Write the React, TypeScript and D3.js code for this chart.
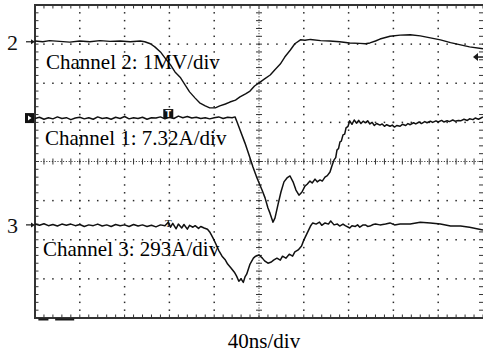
import React, { useRef, useEffect } from "react";
import * as d3 from "d3";

// time in ns (40 ns/div, 10 div), value in screen divisions (centre = 0)
const ch2Data: [number, number][] = [
  [0, 3.08], [7, 3.06], [13, 3.09], [22, 3.07], [31, 3.05], [40, 3.08], [49, 3.06], [58, 3.09],
  [67, 3.07], [76, 3.08], [85, 3.06], [94, 3.08], [98, 3.06], [103, 3.01], [107, 2.93], [112, 2.8],
  [116, 2.65], [121, 2.47], [125, 2.29], [130, 2.14], [134, 1.96], [138, 1.78], [143, 1.62], [147, 1.5],
  [152, 1.42], [156, 1.37], [161, 1.37], [165, 1.42], [170, 1.47], [174, 1.52], [179, 1.57], [183, 1.65],
  [188, 1.73], [192, 1.8], [196, 1.93], [201, 2.03], [205, 2.11], [210, 2.21], [214, 2.34], [219, 2.49],
  [223, 2.67], [228, 2.85], [232, 3.01], [237, 3.11], [241, 3.1], [246, 3.12], [255, 3.09], [263, 3.08],
  [272, 3.06], [281, 3.03], [290, 3.02], [295, 3.01], [299, 3.03], [304, 3.08], [308, 3.13], [317, 3.2],
  [326, 3.23], [335, 3.24], [344, 3.21], [353, 3.16], [362, 3.11], [371, 3.04], [380, 2.98], [388, 2.93],
  [400, 2.88],
];

const ch1Data: [number, number][] = [
  [0, 1.1], [4, 1.13], [8, 1.08], [12, 1.12], [16, 1.09], [20, 1.14], [24, 1.1], [28, 1.12],
  [32, 1.07], [36, 1.11], [40, 1.13], [44, 1.09], [48, 1.12], [52, 1.08], [56, 1.14], [60, 1.1],
  [64, 1.12], [68, 1.08], [72, 1.13], [76, 1.1], [80, 1.15], [84, 1.09], [88, 1.12], [92, 1.1],
  [96, 1.13], [100, 1.08], [104, 1.12], [108, 1.11], [112, 1.14], [116, 1.09], [120, 1.13], [124, 1.1],
  [128, 1.16], [132, 1.12], [136, 1.15], [140, 1.11], [144, 1.13], [148, 1.1], [152, 1.12], [156, 1.09],
  [160, 1.12], [164, 1.14], [168, 1.1], [172, 1.13], [176, 1.12], [178.6, 1.14], [180.4, 1.01], [183, 0.81],
  [187.5, 0.47], [192, 0.09], [194.6, -0.14], [198.2, -0.42], [202.7, -0.73], [205.4, -0.93], [208, -1.19],
  [209.8, -1.32], [212.5, -1.55], [214.3, -1.44], [216.9, -1.11], [219.6, -0.78], [222.3, -0.52],
  [225, -0.42], [227.7, -0.37], [230.4, -0.52], [233, -0.73], [235.7, -0.86], [238.4, -0.78], [241, -0.63],
  [243, -0.58], [245.5, -0.5], [247.5, -0.55], [250, -0.45], [252, -0.52], [254.5, -0.47], [256.5, -0.5],
  [258.9, -0.4], [261, -0.36], [263.4, -0.27], [265, -0.12], [267, 0.04], [268.5, 0.1], [269.6, 0.29],
  [271, 0.33], [272.3, 0.5], [273.5, 0.52], [275, 0.68], [276.5, 0.7], [277.7, 0.86], [279.5, 0.9],
  [281, 1.04], [283, 0.95], [285, 1.06], [287, 0.98], [289, 1.05], [291, 0.97], [293, 1.03], [295, 0.99],
  [297, 1.04], [299, 0.96], [301, 1.0], [303, 0.92], [305, 0.97], [308, 0.93], [310, 0.96], [312, 0.9],
  [314, 0.94], [317, 0.9], [319, 0.93], [321, 0.88], [323, 0.92], [326, 0.9], [328, 0.95], [331, 0.92],
  [333, 0.97], [335, 0.94], [338, 0.99], [340, 0.96], [343, 1.01], [345, 0.97], [348, 1.02], [350, 0.99],
  [353, 1.03], [355, 1.0], [358, 1.04], [360, 1.01], [363, 1.05], [365, 1.01], [368, 1.04], [370, 1.02],
  [373, 1.06], [375, 1.03], [378, 1.05], [380, 1.04], [383, 1.08], [386, 1.05], [388, 1.09], [391, 1.07],
  [393, 1.11], [396, 1.08], [400, 1.14],
];

const ch3Data: [number, number][] = [
  [0, -1.6], [4, -1.63], [8, -1.59], [12, -1.64], [16, -1.61], [20, -1.65], [24, -1.6], [28, -1.63],
  [32, -1.6], [36, -1.64], [40, -1.61], [44, -1.66], [48, -1.62], [52, -1.64], [56, -1.6], [60, -1.65],
  [64, -1.62], [68, -1.66], [72, -1.61], [76, -1.64], [80, -1.62], [84, -1.66], [88, -1.61], [92, -1.65],
  [96, -1.62], [100, -1.66], [104, -1.63], [108, -1.67], [112, -1.62], [116, -1.64], [119, -1.55],
  [121, -1.68], [123, -1.58], [126, -1.72], [128, -1.6], [131, -1.7], [133, -1.61], [136, -1.73],
  [138, -1.63], [141, -1.68], [143, -1.64], [146, -1.71], [148, -1.66], [151, -1.7], [154, -1.73],
  [156, -1.8], [159, -1.96], [162, -2.14], [164, -2.27], [167, -2.42], [170, -2.52], [172, -2.62],
  [175, -2.72], [178, -2.83], [180, -2.93], [182, -3.06], [184, -3.0], [186, -3.09], [187.5, -2.95],
  [189, -2.88], [192, -2.62], [195, -2.47], [197, -2.42], [200, -2.39], [203, -2.47], [205, -2.54],
  [208, -2.6], [211, -2.57], [213, -2.52], [216, -2.47], [219, -2.52], [221, -2.42], [224, -2.47],
  [227, -2.37], [230, -2.42], [232, -2.31], [235, -2.26], [238, -2.16], [240, -2.01], [243, -1.83],
  [246, -1.65], [248, -1.57], [251, -1.6], [254, -1.55], [256, -1.63], [259, -1.57], [262, -1.6],
  [264, -1.52], [267, -1.62], [270, -1.6], [272, -1.65], [275, -1.6], [277, -1.64], [281, -1.7],
  [283, -1.64], [286, -1.66], [288, -1.62], [290, -1.68], [293, -1.62], [295, -1.62], [297, -1.66],
  [299, -1.65], [302, -1.61], [304, -1.6], [308, -1.62], [313, -1.6], [317, -1.57], [321, -1.62],
  [326, -1.6], [335, -1.6], [344, -1.55], [353, -1.57], [362, -1.6], [371, -1.65], [380, -1.65],
  [388, -1.68], [400, -1.75],
];

const channelLabels = ["Channel 2: 1MV/div", "Channel 1: 7.32A/div", "Channel 3: 293A/div"];
const timeLabel = "40ns/div";
const triggerTime = 119;
const ch2Ref = 3.06;
const ch1Ref = 1.11;
const ch3Ref = -1.62;
const rightMarkerLevel = 2.67;

export default function App() {
  const svgRef = useRef(null);
  const width = 483;
  const height = 358;

  useEffect(() => {
    const svg = d3.select(svgRef.current);
    svg.selectAll("*").remove();

    const left = 35, right = 483, top = 5, bottom = 318;
    const x = d3.scaleLinear().domain([0, 400]).range([left, right]);
    const y = d3.scaleLinear().domain([-4, 4]).range([bottom, top]);
    const ink = "#1a1a1a";
    const font = "'Liberation Serif', 'Times New Roman', serif";

    const g = svg.append("g");

    // dotted grid at every division
    const majorT = d3.range(40, 400, 40).filter((t) => t !== 200);
    const majorV = d3.range(-3, 4, 1).filter((v) => v !== 0);
    const minorT = d3.range(0, 400.1, 8);
    const minorV = d3.range(-4, 4.01, 0.2);

    majorT.forEach((t) => {
      g.append("g")
        .selectAll("rect")
        .data(minorV)
        .join("rect")
        .attr("x", x(t) - 0.75)
        .attr("y", (v) => y(v) - 0.75)
        .attr("width", 1.5)
        .attr("height", 1.5)
        .attr("fill", "#2a2a2a");
    });
    majorV.forEach((v) => {
      g.append("g")
        .selectAll("rect")
        .data(minorT)
        .join("rect")
        .attr("x", (t) => x(t) - 0.75)
        .attr("y", y(v) - 0.75)
        .attr("width", 1.5)
        .attr("height", 1.5)
        .attr("fill", "#2a2a2a");
    });

    // centre axes: dense dotted line plus minor ticks
    g.append("line")
      .attr("x1", left).attr("x2", right)
      .attr("y1", y(0)).attr("y2", y(0))
      .attr("stroke", "#444").attr("stroke-width", 1)
      .attr("stroke-dasharray", "1.2,1.6");
    g.append("line")
      .attr("x1", x(200)).attr("x2", x(200))
      .attr("y1", top).attr("y2", bottom)
      .attr("stroke", "#444").attr("stroke-width", 1)
      .attr("stroke-dasharray", "1.2,1.6");
    g.append("g").selectAll("line").data(minorT).join("line")
      .attr("x1", (t) => x(t)).attr("x2", (t) => x(t))
      .attr("y1", y(0) - 3).attr("y2", y(0) + 3)
      .attr("stroke", "#333").attr("stroke-width", 1);
    g.append("g").selectAll("line").data(minorV).join("line")
      .attr("x1", x(200) - 3).attr("x2", x(200) + 3)
      .attr("y1", (v) => y(v)).attr("y2", (v) => y(v))
      .attr("stroke", "#333").attr("stroke-width", 1);

    // border ticks
    g.append("g").selectAll("line").data(minorV).join("line")
      .attr("x1", left).attr("x2", left + 3.5)
      .attr("y1", (v) => y(v)).attr("y2", (v) => y(v))
      .attr("stroke", "#333").attr("stroke-width", 1);
    g.append("g").selectAll("line").data(minorV).join("line")
      .attr("x1", right - 4).attr("x2", right)
      .attr("y1", (v) => y(v)).attr("y2", (v) => y(v))
      .attr("stroke", "#333").attr("stroke-width", 1);
    g.append("g").selectAll("line").data(minorT).join("line")
      .attr("x1", (t) => x(t)).attr("x2", (t) => x(t))
      .attr("y1", top).attr("y2", top + 3.5)
      .attr("stroke", "#333").attr("stroke-width", 1);
    g.append("g").selectAll("line").data(minorT).join("line")
      .attr("x1", (t) => x(t)).attr("x2", (t) => x(t))
      .attr("y1", bottom - 3.5).attr("y2", bottom)
      .attr("stroke", "#333").attr("stroke-width", 1);

    // frame
    g.append("path")
      .attr("d", `M${right},${top}H${left}V${bottom}H${right}`)
      .attr("fill", "none")
      .attr("stroke", "#333")
      .attr("stroke-width", 2);

    // ground marks bottom-left
    [[3, 12], [18, 35]].forEach(([a, b]) => {
      g.append("line")
        .attr("x1", x(a)).attr("x2", x(b))
        .attr("y1", bottom + 1.5).attr("y2", bottom + 1.5)
        .attr("stroke", ink).attr("stroke-width", 2);
    });

    // traces
    const line = d3.line<[number, number]>()
      .x((d) => x(d[0]))
      .y((d) => y(d[1]));

    [ch2Data, ch1Data, ch3Data].forEach((data, i) => {
      g.append("path")
        .attr("d", line(data))
        .attr("fill", "none")
        .attr("stroke", "#111")
        .attr("stroke-width", i === 0 ? 1.4 : 1.5)
        .attr("stroke-linejoin", "round");
    });

    // channel reference markers
    const arrowRef = (v: number, label: string) => {
      g.append("text")
        .attr("x", 7).attr("y", y(v) + 8)
        .attr("font-family", font).attr("font-size", 22)
        .attr("fill", "#111").text(label);
      g.append("line")
        .attr("x1", 26).attr("x2", left - 3)
        .attr("y1", y(v)).attr("y2", y(v))
        .attr("stroke", ink).attr("stroke-width", 1.2);
      g.append("path")
        .attr("d", `M${left - 4},${y(v) - 2.5}L${left},${y(v)}L${left - 4},${y(v) + 2.5}Z`)
        .attr("fill", ink);
    };
    arrowRef(ch2Ref, "2");
    arrowRef(ch3Ref, "3");

    // channel 1 ground marker (black box with arrow)
    g.append("rect")
      .attr("x", 25).attr("y", y(ch1Ref) - 5)
      .attr("width", 9).attr("height", 10)
      .attr("fill", "#111");
    g.append("path")
      .attr("d", `M${28},${y(ch1Ref) - 2.5}L${31.5},${y(ch1Ref)}L${28},${y(ch1Ref) + 2.5}Z`)
      .attr("fill", "#fff");

    // trigger marker on channel 1
    g.append("rect")
      .attr("x", x(triggerTime) - 5).attr("y", y(ch1Ref) - 9)
      .attr("width", 10).attr("height", 9)
      .attr("fill", "#111");
    g.append("text")
      .attr("x", x(triggerTime)).attr("y", y(ch1Ref) - 1.5)
      .attr("text-anchor", "middle")
      .attr("font-family", "'DejaVu Sans', sans-serif")
      .attr("font-weight", "bold")
      .attr("font-size", 8).attr("fill", "#fff").text("T");

    // small trigger "T" on channel 3
    g.append("text")
      .attr("x", x(triggerTime)).attr("y", y(ch3Ref) + 2)
      .attr("text-anchor", "middle")
      .attr("font-family", font)
      .attr("font-size", 11).attr("fill", "#111").text("T");

    // trigger level arrow at right
    g.append("line")
      .attr("x1", 476).attr("x2", 483)
      .attr("y1", y(rightMarkerLevel)).attr("y2", y(rightMarkerLevel))
      .attr("stroke", ink).attr("stroke-width", 1.5);
    g.append("path")
      .attr("d", `M${473},${y(rightMarkerLevel)}L${478},${y(rightMarkerLevel) - 4}L${478},${y(rightMarkerLevel) + 4}Z`)
      .attr("fill", ink);

    // channel labels
    const labelPos = [
      { x: 46, y: 69 },
      { x: 45, y: 145 },
      { x: 43, y: 256 },
    ];
    channelLabels.forEach((t, i) => {
      g.append("text")
        .attr("x", labelPos[i].x).attr("y", labelPos[i].y)
        .attr("font-family", font).attr("font-size", 21)
        .attr("fill", "#000").text(t);
    });

    g.append("text")
      .attr("x", 264).attr("y", 348)
      .attr("text-anchor", "middle")
      .attr("font-family", font).attr("font-size", 21)
      .attr("fill", "#000").text(timeLabel);
  }, []);

  return (
    <svg
      ref={svgRef}
      width={width}
      height={height}
      style={{ position: "absolute", left: 0, top: 0, background: "#fff" }}
    ></svg>
  );
}
